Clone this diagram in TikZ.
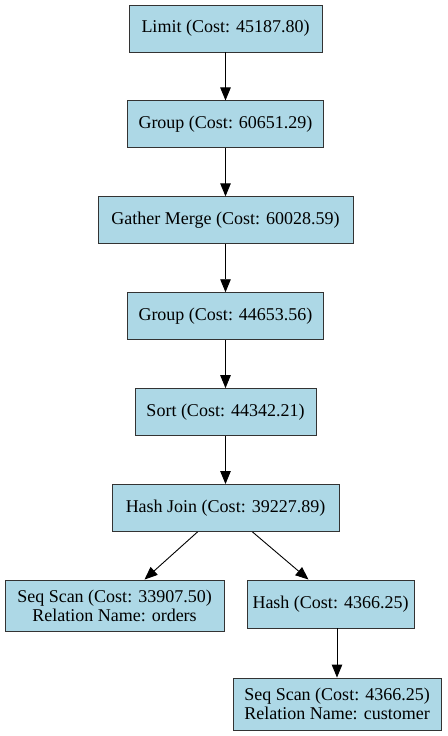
\documentclass[tikz,border=0pt]{standalone}
\usepackage{fontspec}
\setmainfont{Liberation Serif}
\usetikzlibrary{positioning,arrows.meta,calc}

\begin{document}
\begin{tikzpicture}[x=1pt,y=1pt,
    plan/.style={draw=black!80, fill={rgb,255:red,173;green,216;blue,230}, line width=0.9pt,
      minimum height=47pt, inner sep=0pt, align=center,
      font=\fontsize{18}{19}\selectfont},
    flow/.style={-{Triangle[length=13pt,width=10.5pt]}, line width=0.9pt},
    node distance=48pt]
  \useasboundingbox (0,0) rectangle (447,-736);
  % main chain of the plan
  \node[plan, minimum width=193pt] (limit) at (225.5,-28.5) {Limit (Cost: 45187.80)};
  \node[plan, minimum width=196pt, below=of limit] (groupa) {Group (Cost: 60651.29)};
  \node[plan, minimum width=255pt, below=of groupa] (gather) {Gather Merge (Cost: 60028.59)};
  \node[plan, minimum width=196pt, below=of gather] (groupb) {Group (Cost: 44653.56)};
  \node[plan, minimum width=181pt, below=of groupb] (sort) {Sort (Cost: 44342.21)};
  \node[plan, minimum width=227pt, below=of sort] (hjoin) {Hash Join (Cost: 39227.89)};
  % the join inputs
  \node[plan, minimum width=219pt, minimum height=51pt] (scanord) at (114.5,-605.5)
    {Seq Scan (Cost: 33907.50)\\Relation Name: orders};
  \node[plan, minimum width=167pt, minimum height=48pt] (hash) at (330.5,-604) {Hash (Cost: 4366.25)};
  \node[plan, minimum width=208pt, minimum height=52pt] (scancust) at (337,-704)
    {Seq Scan (Cost: 4366.25)\\Relation Name: customer};
  % edges
  \foreach \a/\b in {limit/groupa, groupa/gather, gather/groupb, groupb/sort, sort/hjoin}
    \draw[flow] (\a) -- (\b);
  \draw[flow] (hash.south -| scancust.north) -- (scancust.north);
  \draw[flow] ($(hjoin.south)+(-28,0)$) -- ($(scanord.north)+(30,0)$);
  \draw[flow] ($(hjoin.south)+(27,0)$) -- ($(hash.north)+(-22,0)$);
\end{tikzpicture}
\end{document}
